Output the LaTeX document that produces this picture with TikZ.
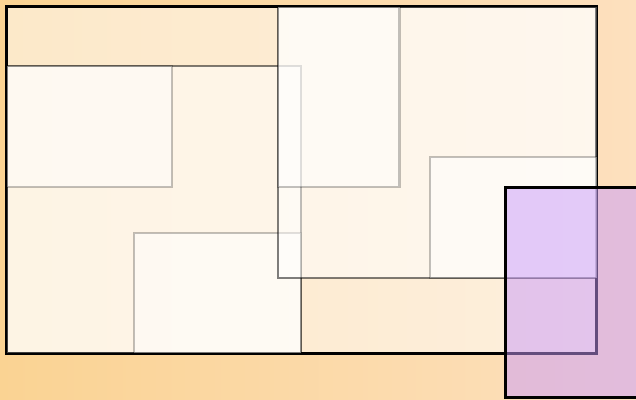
\documentclass[tikz,border=0pt]{standalone}
\begin{document}
\begin{tikzpicture}[x=1pt,y=-1pt,
  outerbox/.style={draw=black,line width=3pt,fill=white,fill opacity=0.5,draw opacity=1},
  midbox/.style={draw=black,draw opacity=0.5,line width=2.2pt,fill=white,fill opacity=0.5},
  innerbox/.style={draw=black,draw opacity=0.24,line width=2.2pt,fill=white,fill opacity=0.5},
  purplebox/.style={draw=black,line width=3pt,fill=purplefill,fill opacity=0.5,draw opacity=1}]
\definecolor{purplefill}{HTML}{C99AFB}
\definecolor{bgleft}{HTML}{FAD393}
\definecolor{bgright}{HTML}{FDE0BE}
\useasboundingbox (0,0) rectangle (636,399);
\clip (0,0) rectangle (636,399);
\shade[left color=bgleft,right color=bgright] (0,0) rectangle (636,399);
\path[outerbox] (6.5,6.5) rectangle (596.5,353) node[coordinate] (A) {};
\path[midbox] (7,66) rectangle (301,353) node[coordinate] (B) {};
\path[innerbox] (7,66) rectangle (172.3,186.7) node[coordinate] (D) {};
\path[innerbox] (134.3,233) rectangle (301,353) node[coordinate] (E) {};
\path[midbox] (278,7) rectangle (597,278) node[coordinate] (C) {};
\path[innerbox] (278,7) rectangle (399.5,186.7) node[coordinate] (F) {};
\path[innerbox] (430.3,156.7) rectangle (597,278) node[coordinate] (G) {};
\path[purplebox] (505.7,187.7) rectangle (645,397.8) node[coordinate] (H) {};
\end{tikzpicture}
\end{document}
